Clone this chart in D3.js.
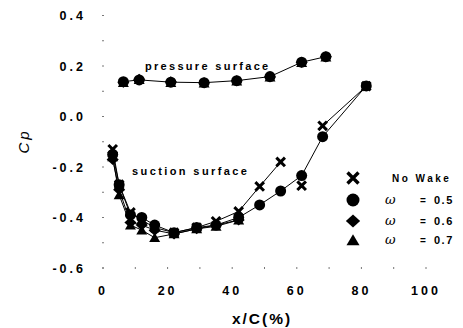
<!DOCTYPE html>
<html>
<head>
<meta charset="utf-8">
<script src="https://cdn.jsdelivr.net/npm/d3@7"></script>
<style>
  body { margin: 0; background: #fff; }
  svg text { font-family: "Liberation Sans", Arial, sans-serif; fill: #000; }
</style>
</head>
<body>
<div id="wrapper"></div>
<script>
// x/C (%) stations
const pressureX = [6.3, 11.2, 21, 31.3, 41.4, 51.7, 61.5, 69];
const suctionX = [3, 5, 8.5, 12, 16, 22, 29, 35, 42, 48.5, 55, 61.5, 68, 81.5];

// pressure surface Cp (all wake cases overlap)
const pressureW05 = [0.138, 0.145, 0.136, 0.134, 0.142, 0.158, 0.215, 0.237];
const pressureW06 = [0.136, 0.148, 0.138, 0.134, 0.142, 0.156, 0.215, 0.237];
const pressureW07 = [0.134, 0.146, 0.134, 0.132, 0.14, 0.156, 0.213, 0.235];

// suction surface Cp
const suctionNoWake = [-0.13, -0.27, -0.38, -0.41, -0.44, -0.46, -0.44, -0.415, -0.376, -0.277, -0.18, -0.274, -0.037, 0.12];
const suctionW05 = [-0.15, -0.27, -0.39, -0.40, -0.43, -0.46, -0.44, -0.43, -0.40, -0.35, -0.295, -0.234, -0.08, 0.121];
const suctionW06 = [-0.17, -0.29, -0.42, -0.43, -0.45, -0.465, -0.445, -0.43, -0.41];
const suctionW07 = [-0.16, -0.31, -0.43, -0.45, -0.48, -0.465, -0.445, -0.435, -0.41];

const xTicks = [0, 20, 40, 60, 80, 100];
const yTicks = [-0.6, -0.4, -0.2, 0.0, 0.2, 0.4];
const legendLabels = ["No Wake", "0.5", "0.6", "0.7"];

const width = 463, height = 328;
const svg = d3.select("#wrapper").append("svg")
    .attr("width", width)
    .attr("height", height);

const x = d3.scaleLinear().domain([0, 100]).range([103, 426]);
const y = d3.scaleLinear().domain([-0.6, 0.4]).range([268, 15.5]);

// tiny tick marks, no axis lines
svg.append("g").selectAll("line")
    .data(d3.range(0, 101, 10))
    .enter().append("line")
    .attr("x1", d => x(d)).attr("x2", d => x(d))
    .attr("y1", y(-0.6) - 1).attr("y2", y(-0.6) + 1)
    .attr("stroke", "#777").attr("stroke-width", 1);
svg.append("g").selectAll("line")
    .data(d3.range(-6, 5).map(d => d / 10))
    .enter().append("line")
    .attr("x1", x(0) - 1).attr("x2", x(0) + 1)
    .attr("y1", d => y(d)).attr("y2", d => y(d))
    .attr("stroke", "#777").attr("stroke-width", 1);

svg.append("g").selectAll("text")
    .data(xTicks)
    .enter().append("text")
    .attr("x", d => x(d))
    .attr("y", 295)
    .attr("text-anchor", "middle")
    .style("font-size", "12.5px").style("font-weight", "bold")
    .style("letter-spacing", "3px")
    .text(d => d);

svg.append("g").selectAll("text")
    .data(yTicks)
    .enter().append("text")
    .attr("x", 86)
    .attr("y", d => y(d) + 4.5)
    .attr("text-anchor", "end")
    .style("font-size", "12.5px").style("font-weight", "bold")
    .style("letter-spacing", "3px")
    .text(d => d.toFixed(1));

svg.append("text")
    .attr("x", 262).attr("y", 324)
    .attr("text-anchor", "middle")
    .style("font-size", "15.5px").style("font-weight", "bold")
    .style("letter-spacing", "2px")
    .text("x/C(%)");

svg.append("text")
    .attr("transform", "translate(29,141) rotate(-90)")
    .attr("text-anchor", "middle")
    .style("font-size", "15px").style("font-style", "italic")
    .style("letter-spacing", "3px")
    .text("Cp");

svg.append("text")
    .attr("x", 145).attr("y", 69.5)
    .style("font-size", "11px").style("font-weight", "bold")
    .style("letter-spacing", "2.3px")
    .text("pressure surface");
svg.append("text")
    .attr("x", 132).attr("y", 175)
    .style("font-size", "11px").style("font-weight", "bold")
    .style("letter-spacing", "2.4px")
    .text("suction surface");

// lines
const line = d3.line()
    .defined(d => !d.skip)
    .x(d => x(d.x)).y(d => y(d.y));
const zip = (xs, ys) => ys.map((v, i) => ({ x: xs[i], y: v }));

const noWakePts = zip(suctionX, suctionNoWake);
const noWakeLine = noWakePts.map(d => ({ x: d.x, y: d.y, skip: d.x === 61.5 }));
const lines = [
    zip(pressureX, pressureW05),
    zip(suctionX, suctionW05),
    zip(suctionX, suctionW06),
    zip(suctionX, suctionW07),
    noWakeLine
];
svg.append("g").selectAll("path")
    .data(lines)
    .enter().append("path")
    .attr("d", line)
    .attr("fill", "none")
    .attr("stroke", "#000")
    .attr("stroke-width", 1);

// marker shapes
const shapes = {
    x: s => `M${-s},${-s}L${s},${s}M${-s},${s}L${s},${-s}`,
    circle: s => d3.symbol(d3.symbolCircle, Math.PI * s * s)(),
    diamond: s => `M${-s * 1.1},0L0,${-s}L${s * 1.1},0L0,${s}Z`,
    triangle: s => `M${-s},${s * 0.8}L0,${-s * 0.9}L${s},${s * 0.8}Z`
};

function drawMarkers(pts, kind, s) {
    const g = svg.append("g");
    const p = g.selectAll("path")
        .data(pts)
        .enter().append("path")
        .attr("transform", d => `translate(${x(d.x)},${y(d.y)})`)
        .attr("d", shapes[kind](s));
    if (kind === "x") {
        p.attr("fill", "none").attr("stroke", "#000").attr("stroke-width", 3);
    } else {
        p.attr("fill", "#000");
    }
}

drawMarkers(zip(pressureX, pressureW07), "triangle", 5.5);
drawMarkers(zip(pressureX, pressureW06), "diamond", 5.5);
drawMarkers(zip(pressureX, pressureW05), "circle", 5.5);
drawMarkers(zip(suctionX, suctionW07), "triangle", 5.5);
drawMarkers(zip(suctionX, suctionW06), "diamond", 5.5);
drawMarkers(zip(suctionX, suctionW05), "circle", 5.5);
drawMarkers(noWakePts, "x", 4.3);

// legend
const legendKinds = ["x", "circle", "diamond", "triangle"];
const legendY = [178, 200, 221, 240];
const leg = svg.append("g");
legendKinds.forEach((k, i) => {
    const p = leg.append("path")
        .attr("transform", `translate(353,${legendY[i]})`)
        .attr("d", shapes[k](k === "x" ? 5.5 : 6.5));
    if (k === "x") p.attr("fill", "none").attr("stroke", "#000").attr("stroke-width", 3.4);
    else p.attr("fill", "#000");
    if (i === 0) {
        leg.append("text")
            .attr("x", 392).attr("y", legendY[i] + 3.5)
            .style("font-size", "10px").style("font-weight", "bold")
            .style("letter-spacing", "2.5px")
            .text(legendLabels[i]);
    } else {
        leg.append("text")
            .attr("x", 385).attr("y", legendY[i] + 3.5)
            .style("font-family", "'DejaVu Serif', serif")
            .style("font-size", "13px").style("font-style", "italic")
            .text("\u03c9");
        leg.append("text")
            .attr("x", 420).attr("y", legendY[i] + 3.5)
            .style("font-size", "10px").style("font-weight", "bold")
            .text("=");
        leg.append("text")
            .attr("x", 434).attr("y", legendY[i] + 4)
            .style("font-size", "11px").style("font-weight", "bold")
            .style("letter-spacing", "1.5px")
            .text(legendLabels[i]);
    }
});
</script>
</body>
</html>
